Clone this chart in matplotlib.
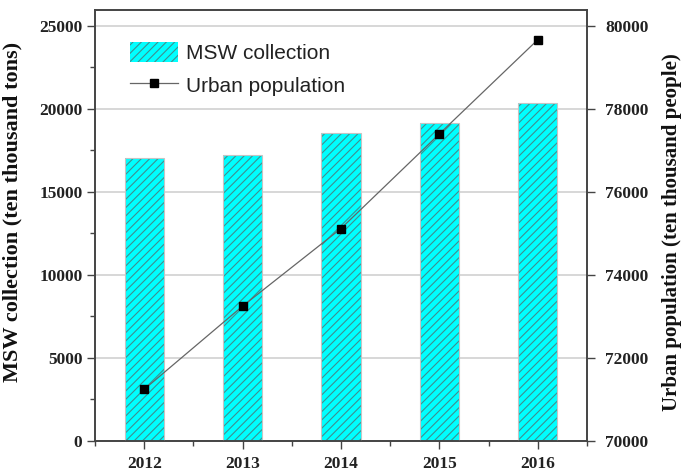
import matplotlib
matplotlib.use("Agg")
import matplotlib.pyplot as plt
from matplotlib.ticker import MultipleLocator, FixedLocator

# Municipal solid waste collection vs. urban population, China 2012-2016
years = [2012, 2013, 2014, 2015, 2016]
msw_collection = [17070, 17230, 18535, 19140, 20345]      # ten thousand tons
urban_population = [71245, 73250, 75120, 77400, 79670]    # ten thousand people

serif = ["Liberation Serif", "DejaVu Serif"]
sans = ["Liberation Sans", "DejaVu Sans"]

plt.rcParams["hatch.linewidth"] = 0.8

fig = plt.figure(figsize=(6.84, 4.73), dpi=100)
ax = fig.add_axes([95 / 684, 32 / 473, 492 / 684, 431 / 473])
ax2 = ax.twinx()

# grid behind the bars
ax.set_axisbelow(True)
ax.yaxis.grid(True, which="major", color="#d4d4d4", linewidth=1.3)

bars = ax.bar(years, msw_collection, width=0.4, color="#00ffff",
              edgecolor="#3f8f8f", linewidth=0, hatch="////",
              label="MSW collection", zorder=2)
ax.bar(years, msw_collection, width=0.4, fill=False,
       edgecolor="#c4c4c4", linewidth=0.8, zorder=3)

line, = ax2.plot(years, urban_population, color="#666666", linewidth=0.9,
                 marker="s", markersize=5.5, markerfacecolor="black",
                 markeredgecolor="black", label="Urban population")

ax.set_xlim(2011.5, 2016.5)
ax.set_ylim(0, 25960)
ax2.set_ylim(70000, 80385)

ax.xaxis.set_major_locator(FixedLocator(years))
ax.xaxis.set_minor_locator(MultipleLocator(0.5))
ax.yaxis.set_major_locator(MultipleLocator(5000))
ax.yaxis.set_minor_locator(MultipleLocator(2500))
ax2.yaxis.set_major_locator(MultipleLocator(2000))

spine_color = "#444444"
for a in (ax, ax2):
    for s in a.spines.values():
        s.set_color(spine_color)
        s.set_linewidth(1.2)

ax.tick_params(axis="both", which="major", direction="out", length=6,
               width=1.0, color=spine_color)
ax.tick_params(axis="both", which="minor", direction="out", length=3.5,
               width=1.0, color=spine_color)
ax.tick_params(axis="y", which="major", pad=3)
ax.tick_params(axis="x", which="major", pad=5)
ax2.tick_params(axis="y", which="major", direction="out", length=6,
                width=1.0, color=spine_color, pad=7)

ax.set_xticklabels([str(y) for y in years])
for lab in ax.get_xticklabels() + ax.get_yticklabels() + ax2.get_yticklabels():
    lab.set_fontfamily(serif)
    lab.set_fontweight("bold")
    lab.set_fontsize(12.5)
    lab.set_color("#222222")

ax.set_ylabel("MSW collection (ten thousand tons)", fontfamily=serif,
              fontweight="bold", fontsize=16, color="#111111")
ax2.set_ylabel("Urban population (ten thousand people)", fontfamily=serif,
               fontweight="bold", fontsize=15, color="#111111")
ax.yaxis.set_label_coords(-0.148, 0.532)
ax2.yaxis.set_label_coords(1.152, 0.485)

leg = ax2.legend([bars, line], ["MSW collection", "Urban population"],
                 loc="upper left", bbox_to_anchor=(0.055, 0.945),
                 frameon=False, prop={"family": sans, "size": 15},
                 handlelength=2.3, handleheight=1.1, handletextpad=0.35,
                 labelspacing=0.55, borderaxespad=0)
for t in leg.get_texts():
    t.set_color("#222222")

fig.savefig("out.png", dpi=100)
